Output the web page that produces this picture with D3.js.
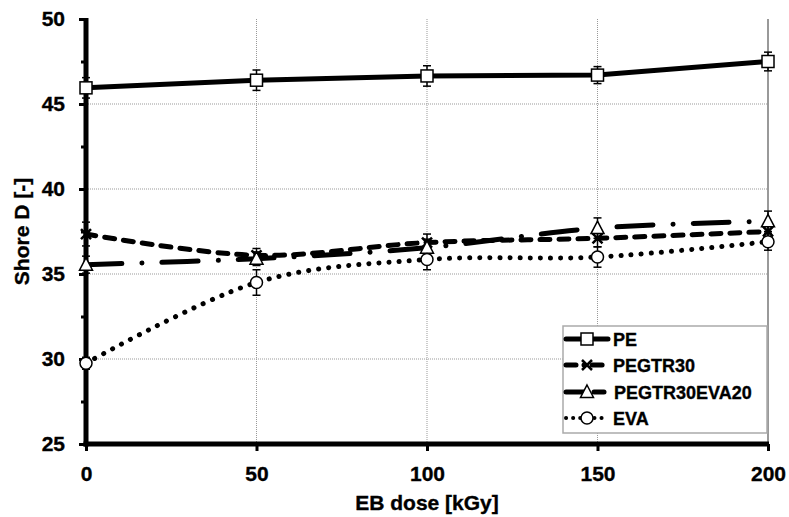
<!DOCTYPE html>
<html>
<head>
<meta charset="utf-8">
<script src="https://cdn.jsdelivr.net/npm/d3@7"></script>
<style>
  body { margin: 0; background: #fff; }
  svg { font-family: "Liberation Sans", Arial, sans-serif; font-weight: bold; }
  svg text { stroke: #000; stroke-width: 0.35px; }
</style>
</head>
<body>
<svg id="chart" width="789" height="517"></svg>
<script>
// Data
const doses = [0, 50, 100, 150, 200];
const pe = [45.95, 46.4, 46.65, 46.7, 47.5];
const peErr = [0.6, 0.6, 0.6, 0.5, 0.55];
const pegtr30 = [37.35, 36.1, 36.85, 37.1, 37.5];
const pegtr30Err = [0.7, 0.4, 0.5, 0.5, 0.5];
const pegtr30eva20 = [35.55, 35.9, 36.55, 37.7, 38.1];
const pegtr30eva20Err = [0.5, 0.4, 0.5, 0.6, 0.6];
const eva = [29.75, 34.5, 35.85, 36.0, 36.9];
const evaErr = [0.35, 0.75, 0.6, 0.6, 0.5];
const xTicks = [0, 50, 100, 150, 200];
const yTicks = [25, 30, 35, 40, 45, 50];

const series = [
  { name: "PE", values: pe, err: peErr, dash: null, width: 5, marker: "square", smooth: false },
  { name: "PEGTR30", values: pegtr30, err: pegtr30Err, dash: "10 9", width: 5, marker: "cross", smooth: true },
  { name: "PEGTR30EVA20", values: pegtr30eva20, err: pegtr30eva20Err, dash: "36 20 0.1 20", width: 5, marker: "triangle", smooth: true },
  { name: "EVA", values: eva, err: evaErr, dash: "0.1 10", width: 5, marker: "circle", smooth: true }
];

const svg = d3.select("#chart");
const margin = { left: 86, right: 20, top: 19, bottom: 73 };
const width = 789, height = 517;

const x = d3.scaleLinear().domain([0, 200]).range([margin.left, width - margin.right - 1]);
const y = d3.scaleLinear().domain([25, 50]).range([height - margin.bottom, margin.top]);

// grid lines
svg.append("g")
  .selectAll("line")
  .data(xTicks.filter(d => d > 0 && d < 200))
  .join("line")
  .attr("x1", d => x(d)).attr("x2", d => x(d))
  .attr("y1", y(50)).attr("y2", y(25))
  .attr("stroke", "#999").attr("stroke-width", 1).attr("stroke-dasharray", "1 1");

svg.append("g")
  .selectAll("line")
  .data(yTicks.filter(d => d > 25 && d < 50))
  .join("line")
  .attr("x1", x(0)).attr("x2", x(200))
  .attr("y1", d => y(d)).attr("y2", d => y(d))
  .attr("stroke", "#999").attr("stroke-width", 1).attr("stroke-dasharray", "1 1");

// right border of plot area
svg.append("line")
  .attr("x1", x(200)).attr("x2", x(200))
  .attr("y1", y(50)).attr("y2", y(25))
  .attr("stroke", "#999").attr("stroke-width", 2);

// axes
const yAxis = svg.append("g")
  .attr("transform", `translate(${x(0)},0)`)
  .call(d3.axisLeft(y).tickValues(yTicks).tickSize(7).tickPadding(14));
const yMinor = svg.append("g")
  .attr("transform", `translate(${x(0)},0)`)
  .call(d3.axisLeft(y).tickValues(d3.range(27.5, 50, 5)).tickSize(5).tickFormat(""));
const xAxis = svg.append("g")
  .attr("transform", `translate(0,${y(25)})`)
  .call(d3.axisBottom(x).tickValues(xTicks).tickSize(7).tickPadding(15));

[yAxis, yMinor, xAxis].forEach(g => {
  g.select(".domain").remove();
  g.selectAll(".tick line").attr("stroke", "#000").attr("stroke-width", 3);
  g.selectAll(".tick text")
    .attr("fill", "#000")
    .style("font-size", "21px")
    .style("font-weight", "bold")
    .style("font-family", "'Liberation Sans', Arial, sans-serif");
});

svg.append("line")
  .attr("x1", x(0)).attr("x2", x(0))
  .attr("y1", y(50) - 1).attr("y2", y(25) + 2.5)
  .attr("stroke", "#000").attr("stroke-width", 5);
svg.append("line")
  .attr("x1", x(0) - 2.5).attr("x2", x(200) + 1)
  .attr("y1", y(25)).attr("y2", y(25))
  .attr("stroke", "#000").attr("stroke-width", 5);

// axis titles
svg.append("text")
  .attr("x", (x(0) + x(200)) / 2).attr("y", 510)
  .attr("text-anchor", "middle")
  .style("font-size", "21px")
  .text("EB dose [kGy]");
svg.append("text")
  .attr("transform", `translate(29,${(y(25) + y(50)) / 2}) rotate(-90)`)
  .attr("text-anchor", "middle")
  .style("font-size", "21px")
  .text("Shore D [-]");

const smoothLine = d3.line()
  .x(d => x(d[0]))
  .y(d => y(d[1]))
  .curve(d3.curveCardinal.tension(0));
const straightLine = d3.line()
  .x(d => x(d[0]))
  .y(d => y(d[1]));

function drawMarker(g, type, cx, cy) {
  if (type === "square") {
    g.append("rect").attr("x", cx - 6).attr("y", cy - 6).attr("width", 12).attr("height", 12)
      .attr("fill", "#fff").attr("stroke", "#000").attr("stroke-width", 1.5);
  } else if (type === "triangle") {
    g.append("path")
      .attr("d", `M${cx},${cy - 7}L${cx + 6.5},${cy + 5.5}L${cx - 6.5},${cy + 5.5}Z`)
      .attr("fill", "#fff").attr("stroke", "#000").attr("stroke-width", 1.5);
  } else if (type === "circle") {
    g.append("circle").attr("cx", cx).attr("cy", cy).attr("r", 6)
      .attr("fill", "#fff").attr("stroke", "#000").attr("stroke-width", 1.5);
  } else if (type === "cross") {
    g.append("path")
      .attr("d", `M${cx - 5},${cy - 5}L${cx + 5},${cy + 5}M${cx - 5},${cy + 5}L${cx + 5},${cy - 5}`)
      .attr("fill", "none").attr("stroke", "#000").attr("stroke-width", 2.5);
  }
}

const plot = svg.append("g");

// error bars
series.forEach(s => {
  const eb = plot.append("g").attr("stroke", "#000").attr("stroke-width", 1.5);
  doses.forEach((d, i) => {
    const cx = x(d), lo = y(s.values[i] - s.err[i]), hi = y(s.values[i] + s.err[i]);
    eb.append("line").attr("x1", cx).attr("x2", cx).attr("y1", lo).attr("y2", hi);
    eb.append("line").attr("x1", cx - 4).attr("x2", cx + 4).attr("y1", lo).attr("y2", lo);
    eb.append("line").attr("x1", cx - 4).attr("x2", cx + 4).attr("y1", hi).attr("y2", hi);
  });
});

// lines
series.forEach(s => {
  plot.append("path")
    .datum(doses.map((d, i) => [d, s.values[i]]))
    .attr("d", s.smooth ? smoothLine : straightLine)
    .attr("fill", "none")
    .attr("stroke", "#000")
    .attr("stroke-width", s.width)
    .attr("stroke-linecap", "round")
    .attr("stroke-dasharray", s.dash);
});

// markers
series.forEach(s => {
  const mg = plot.append("g");
  doses.forEach((d, i) => drawMarker(mg, s.marker, x(d), y(s.values[i])));
});

// legend
const legend = svg.append("g");
legend.append("rect")
  .attr("x", 563).attr("y", 326).attr("width", 204).attr("height", 107)
  .attr("fill", "#fff").attr("stroke", "#aaa").attr("stroke-width", 1.5);
const legendY = [339, 365, 392, 418];
series.forEach((s, i) => {
  const ly = legendY[i];
  const lg = legend.append("g");
  lg.append("line")
    .attr("x1", 566).attr("x2", 608).attr("y1", ly).attr("y2", ly)
    .attr("stroke", "#000").attr("stroke-width", s.marker === "circle" ? 4 : s.width)
    .attr("stroke-linecap", "round")
    .attr("stroke-dasharray", s.dash ? (s.marker === "circle" ? "0.1 7" : (s.marker === "cross" ? "10 8 0.1 8" : "22 100")) : null);
  if (s.marker === "triangle") {
    lg.append("line").attr("x1", 594).attr("x2", 604).attr("y1", ly).attr("y2", ly)
      .attr("stroke", "#000").attr("stroke-width", 5).attr("stroke-linecap", "round");
  }
  drawMarker(lg, s.marker, 587, ly);
  lg.append("text")
    .attr("x", s.marker === "triangle" ? 614 : 613).attr("y", ly + 6.5)
    .style("font-size", "18px")
    .text(s.name);
});
</script>
</body>
</html>
